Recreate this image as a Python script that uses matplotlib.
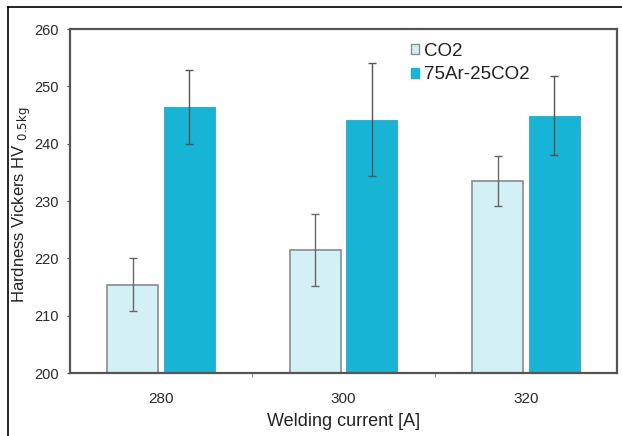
import matplotlib
matplotlib.use("Agg")
import matplotlib.pyplot as plt
from matplotlib.patches import Rectangle
from matplotlib.lines import Line2D
import numpy as np

categories = ["280", "300", "320"]
co2_vals = [215.4, 221.4, 233.5]
co2_err = [4.6, 6.3, 4.4]
ar_vals = [246.4, 244.2, 244.9]
ar_err = [6.5, 9.9, 6.9]
series_names = ["CO2", "75Ar-25CO2"]
yticks = [200, 210, 220, 230, 240, 250, 260]

plt.rcParams['font.family'] = ['Liberation Sans', 'DejaVu Sans']

fig = plt.figure(figsize=(6.22, 4.36), dpi=100)
ax = fig.add_axes([70/622, 1-373/436, (617-70)/622, (373-29)/436])

x = np.arange(len(categories))
w = 0.28
off = 0.155
ax.bar(x - off, co2_vals, width=w, color="#d3f0f6", edgecolor="#8a8a8a", linewidth=1.2, zorder=2)
ax.bar(x + off, ar_vals, width=w, color="#18b4d5", edgecolor="#4aa9c2", linewidth=0.8, zorder=2)
ax.errorbar(x - off, co2_vals, yerr=co2_err, fmt="none", ecolor="#666666", elinewidth=1.0, capsize=3, capthick=1.0, zorder=3)
ax.errorbar(x + off, ar_vals, yerr=ar_err, fmt="none", ecolor="#555555", elinewidth=1.0, capsize=3, capthick=1.0, zorder=3)

ax.set_ylim(200, 260)
ax.set_xlim(-0.5, 2.5)
ax.set_yticks(yticks)
ax.set_yticklabels([str(t) for t in yticks], fontsize=10.5, color="#2a2a2a")
ax.set_xticks(x)
ax.set_xticklabels(categories, fontsize=11, color="#2a2a2a")
ax.tick_params(axis='x', length=0, pad=14)
ax.tick_params(axis='y', length=2, color="#555555", pad=6)
ax.set_xticks([0.5, 1.5], minor=True)
ax.tick_params(axis='x', which='minor', length=3, direction='out', color="#777777")

for s in ax.spines.values():
    s.set_color("#555555")
    s.set_linewidth(1.6)

ax.set_xlabel("Welding current [A]", fontsize=13, color="#222222", labelpad=5)
ax.set_ylabel(r"Hardness Vickers HV $_{\mathrm{0.5kg}}$", fontsize=12, color="#222222")
ax.yaxis.set_label_coords(-0.068, 0.49)

handles = [Rectangle((0, 0), 1, 1, facecolor="#d3f0f6", edgecolor="#8a8a8a", linewidth=1.0),
           Rectangle((0, 0), 1, 1, facecolor="#18b4d5", edgecolor="#18b4d5")]
leg = ax.legend(handles, series_names, loc="upper left", bbox_to_anchor=(0.593, 1.009),
                frameon=False, fontsize=13.5, handlelength=0.4, handleheight=0.45,
                handletextpad=0.3, labelspacing=0.35)
for t in leg.get_texts():
    t.set_color("#222222")

# outer frame (left and top edges visible)
fig.add_artist(Line2D([8/622, 8/622], [0, 1-7/436], transform=fig.transFigure, color="black", lw=1.2))
fig.add_artist(Line2D([8/622, 1], [1-7/436, 1-7/436], transform=fig.transFigure, color="black", lw=1.2))

fig.savefig("out.png", dpi=100)
